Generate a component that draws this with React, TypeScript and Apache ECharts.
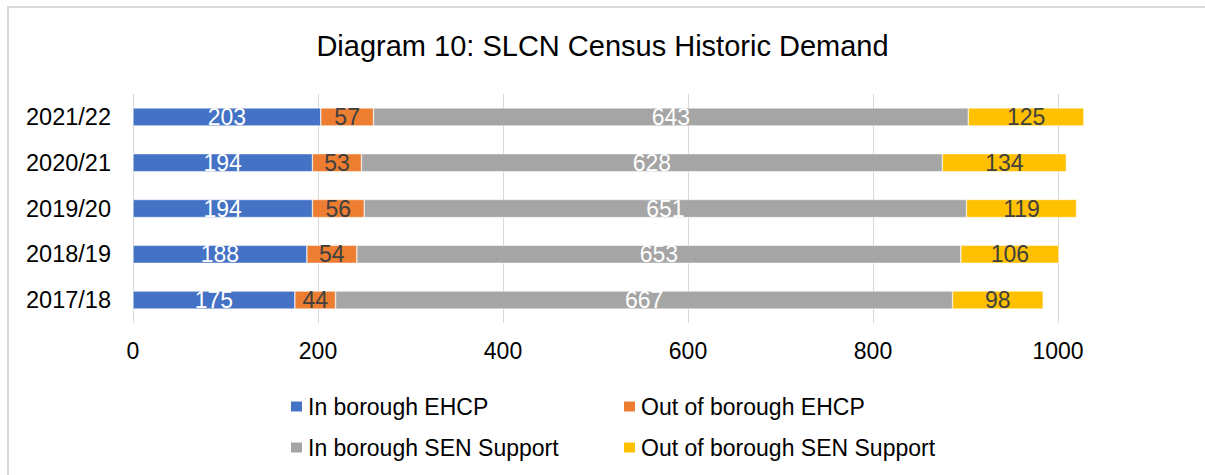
import React, { useEffect, useRef } from "react";
import * as echarts from "echarts";

const categories = ["2017/18", "2018/19", "2019/20", "2020/21", "2021/22"];
const inBoroughEHCP = [175, 188, 194, 194, 203];
const outBoroughEHCP = [44, 54, 56, 53, 57];
const inBoroughSEN = [667, 653, 651, 628, 643];
const outBoroughSEN = [98, 106, 119, 134, 125];
const seriesNames = [
  "In borough EHCP",
  "Out of borough EHCP",
  "In borough SEN Support",
  "Out of borough SEN Support",
];
const colors = ["#4472C4", "#ED7D31", "#A5A5A5", "#FFC000"];
const labelColors = ["#ffffff", "#404040", "#ffffff", "#404040"];

const FONT = "'Liberation Sans', Arial, sans-serif";

export default function App() {
  const ref = useRef<HTMLDivElement>(null);
  useEffect(() => {
    if (!ref.current) return;
    const chart = echarts.init(ref.current, null, { renderer: "svg" });
    const values = [inBoroughEHCP, outBoroughEHCP, inBoroughSEN, outBoroughSEN];
    const legendPos = [
      { left: 284, top: 390 },
      { left: 617, top: 390 },
      { left: 284, top: 431 },
      { left: 617, top: 431 },
    ];
    chart.setOption({
      animation: false,
      backgroundColor: "#ffffff",
      textStyle: { fontFamily: FONT },
      title: {
        text: "Diagram 10: SLCN Census Historic Demand",
        left: "center",
        top: 26,
        textStyle: { fontFamily: FONT, fontSize: 29, fontWeight: "normal", color: "#000000" },
      },
      legend: seriesNames.map((n, i) => ({
        data: [n],
        left: legendPos[i].left,
        top: legendPos[i].top,
        icon: "rect",
        itemWidth: 13,
        itemHeight: 12,
        itemGap: 0,
        textStyle: { fontFamily: FONT, fontSize: 23, color: "#000000" },
      })),
      graphic: [
        { type: "line", shape: { x1: 7, y1: 7, x2: 1205, y2: 7 }, style: { stroke: "#d9d9d9", lineWidth: 2 } },
        { type: "line", shape: { x1: 8, y1: 7, x2: 8, y2: 475 }, style: { stroke: "#d9d9d9", lineWidth: 2 } },
      ],
      grid: { left: 133, top: 94, height: 229, right: 1205 - (133 + 1100 * 0.925) },
      xAxis: {
        type: "value",
        min: 0,
        max: 1100,
        interval: 200,
        axisLine: { show: false },
        axisTick: { show: false },
        splitLine: { show: true, showMaxLine: false, lineStyle: { color: "#d9d9d9", width: 1 } },
        axisLabel: {
          fontFamily: FONT,
          fontSize: 23,
          color: "#000000",
          margin: 16,
          showMaxLabel: false,
          formatter: (v: number) => (v > 1000 ? "" : String(v)),
        },
      },
      yAxis: {
        type: "category",
        data: categories,
        axisLine: { show: false },
        axisTick: { show: false },
        axisLabel: { fontFamily: FONT, fontSize: 23.5, color: "#000000", margin: 22 },
      },
      series: seriesNames.map((n, i) => ({
        name: n,
        type: "bar",
        stack: "total",
        barWidth: 18,
        data: values[i],
        itemStyle: { color: colors[i], borderColor: "#ffffff", borderWidth: 0.5 },
        label: {
          show: true,
          position: "inside",
          fontFamily: FONT,
          fontSize: 23,
          color: labelColors[i],
        },
      })),
    });
    return () => chart.dispose();
  }, []);
  return (
    <div
      ref={ref}
      style={{ position: "fixed", left: 0, top: 0, width: 1205, height: 475 }}
    />
  );
}
